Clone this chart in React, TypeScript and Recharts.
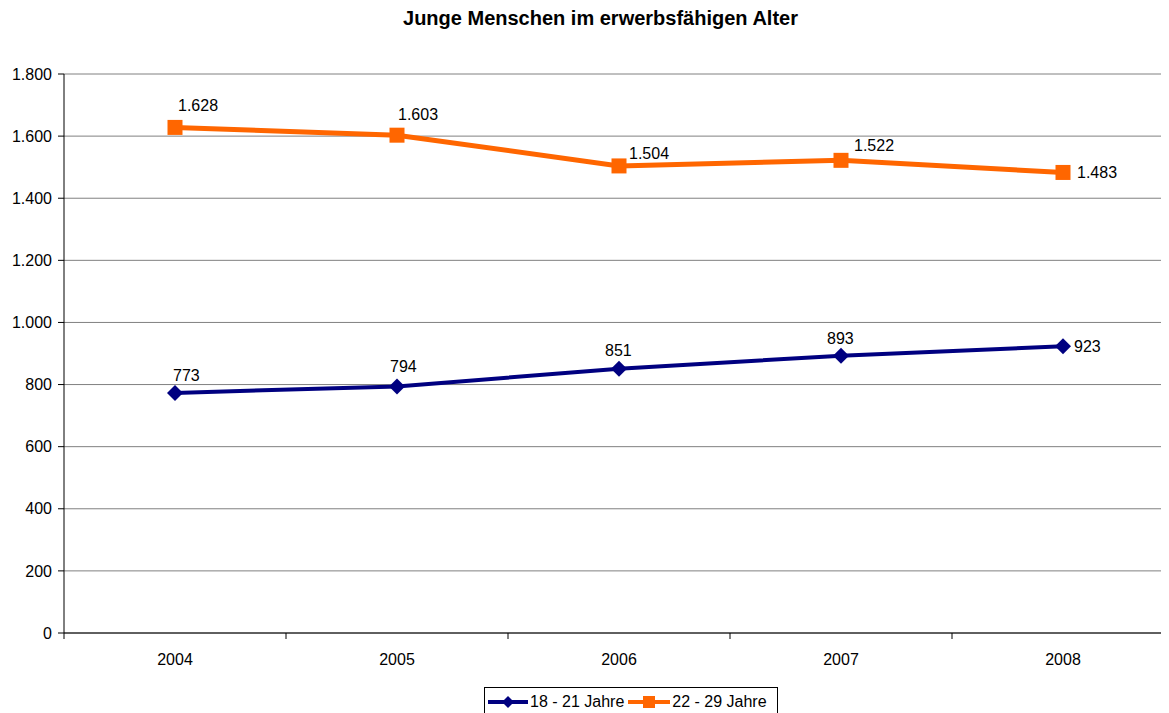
import React from "react";
import { LineChart, Line, XAxis, YAxis, CartesianGrid, Legend, LabelList } from "recharts";

const categories = ["2004", "2005", "2006", "2007", "2008"];
const series18to21 = [773, 794, 851, 893, 923];
const series22to29 = [1628, 1603, 1504, 1522, 1483];
const yTicks = [0, 200, 400, 600, 800, 1000, 1200, 1400, 1600, 1800];

const NAME_A = "18 - 21 Jahre";
const NAME_B = "22 - 29 Jahre";
const COLOR_A = "#000080";
const COLOR_B = "#FF6600";
const FONT = "'Liberation Sans', Arial, sans-serif";

// label offsets (dx from point to text start, dy to baseline)
const labelOffsetsA = [
  [-2, -12],
  [-7, -14],
  [-14, -13],
  [-14, -12],
  [11, 6],
];
const labelOffsetsB = [
  [3, -16],
  [1, -15],
  [10, -7],
  [13, -9],
  [14, 6],
];

const data = categories.map((c, i) => ({
  year: c,
  a: series18to21[i],
  b: series22to29[i],
}));

// the page body has an 8px margin; chart coordinates are page coordinates - 8
const CHART_W = 1170;
const CHART_H = 705;
const MARGIN = { top: 66, right: 4, bottom: 0, left: 0 };
const Y_W = 56;
const PLOT_W = CHART_W - MARGIN.left - MARGIN.right - Y_W;
const BAND = PLOT_W / categories.length;

const fmt = (v: number) => v.toLocaleString("de-DE");

const Diamond = (props: any) => {
  const { cx, cy } = props;
  if (cx == null || cy == null) return null;
  const r = 8;
  return (
    <path
      d={`M${cx},${cy - r} L${cx + r},${cy} L${cx},${cy + r} L${cx - r},${cy} Z`}
      fill={COLOR_A}
    />
  );
};

const Square = (props: any) => {
  const { cx, cy } = props;
  if (cx == null || cy == null) return null;
  const h = 7.5;
  return <rect x={cx - h} y={cy - h} width={2 * h} height={2 * h} fill={COLOR_B} />;
};

const makeLabel = (offsets: number[][]) => (props: any) => {
  const { x, y, index, value } = props;
  const [dx, dy] = offsets[index] || [0, -10];
  return (
    <text x={x + dx} y={y + dy} fontSize={16} fontFamily={FONT} fill="#000" textAnchor="start">
      {fmt(value)}
    </text>
  );
};

const XTick = (props: any) => {
  const { x, y, payload } = props;
  const axisY = y - 6 - 15;
  return (
    <g>
      <line x1={x - BAND / 2} y1={axisY} x2={x - BAND / 2} y2={axisY + 6} stroke="#000" />
      <text x={x} y={y} dy="0.71em" textAnchor="middle" fontSize={16} fontFamily={FONT} fill="#000">
        {payload.value}
      </text>
    </g>
  );
};

const LegendContent = () => (
  <div
    style={{
      border: "1px solid #000",
      background: "#fff",
      height: 30,
      width: 294,
      boxSizing: "border-box",
      display: "flex",
      alignItems: "center",
      fontFamily: FONT,
      fontSize: 16,
      color: "#000",
      whiteSpace: "nowrap",
    }}
  >
    <svg width={42} height={20} style={{ marginLeft: 3 }}>
      <line x1={0} y1={10} x2={40} y2={10} stroke={COLOR_A} strokeWidth={4} />
      <path d="M20,4 L26,10 L20,16 L14,10 Z" fill={COLOR_A} />
    </svg>
    <span>{NAME_A}</span>
    <svg width={44} height={20} style={{ marginLeft: 4 }}>
      <line x1={0} y1={10} x2={42} y2={10} stroke={COLOR_B} strokeWidth={4} />
      <rect x={15} y={4} width={12} height={12} fill={COLOR_B} />
    </svg>
    <span>{NAME_B}</span>
  </div>
);

export default function App() {
  return (
    <div
      style={{
        width: 1161,
        height: 705,
        overflow: "hidden",
        position: "relative",
        background: "#fff",
      }}
    >
      <div
        style={{
          position: "absolute",
          top: -1,
          left: 0,
          width: 1185,
          textAlign: "center",
          fontFamily: FONT,
          fontWeight: "bold",
          fontSize: 20,
          color: "#000",
        }}
      >
        Junge Menschen im erwerbsfähigen Alter
      </div>
      <LineChart width={CHART_W} height={CHART_H} data={data} margin={MARGIN}>
        <CartesianGrid vertical={false} stroke="#808080" />
        <XAxis
          dataKey="year"
          height={80}
          tickLine={false}
          tickMargin={15}
          stroke="#000"
          tick={<XTick />}
          interval={0}
          padding={{ left: BAND / 2, right: BAND / 2 }}
        />
        <YAxis
          width={Y_W}
          domain={[0, 1800]}
          ticks={yTicks}
          tickFormatter={fmt}
          stroke="#000"
          tickSize={6}
          tickMargin={6}
          tick={{ fill: "#000", fontSize: 16, fontFamily: FONT }}
          interval={0}
        />
        <Legend
          content={<LegendContent />}
          wrapperStyle={{ position: "absolute", left: 476, top: 679, width: 296, height: 0 }}
        />
        <Line
          dataKey="a"
          name={NAME_A}
          stroke={COLOR_A}
          strokeWidth={4}
          dot={<Diamond />}
          activeDot={false}
          isAnimationActive={false}
        >
          <LabelList dataKey="a" content={makeLabel(labelOffsetsA)} />
        </Line>
        <Line
          dataKey="b"
          name={NAME_B}
          stroke={COLOR_B}
          strokeWidth={5}
          dot={<Square />}
          activeDot={false}
          isAnimationActive={false}
        >
          <LabelList dataKey="b" content={makeLabel(labelOffsetsB)} />
        </Line>
      </LineChart>
    </div>
  );
}
